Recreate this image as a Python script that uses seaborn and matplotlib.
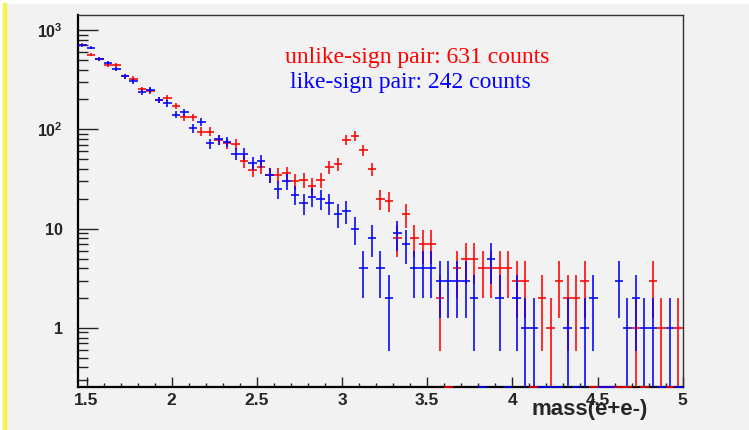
import numpy as np
import matplotlib
matplotlib.use("Agg")
import matplotlib.pyplot as plt
import seaborn as sns
from matplotlib.patches import Rectangle
from matplotlib.ticker import FixedLocator, FixedFormatter, MultipleLocator, LogLocator, NullFormatter, FuncFormatter

# histogram binning (71 bins, 1.45 .. 5.0 GeV)
mass_lo, mass_hi, n_bins = 1.45, 5.0, 71

# bin contents
unlike_counts = [710, 565, 505, 441, 441, 342, 323, 253, 245, 196,
                 208, 172, 132, 132, 95, 95, 78, 72, 71, 48,
                 39, 42, 35, 35, 36, 30, 31, 27, 31, 42,
                 45, 78, 86, 62, 40, 20, 19, 8, 14, 8,
                 7, 7, 2, 0, 4, 5, 5, 4, 4, 4,
                 4, 3, 3, 0, 2, 1, 3, 2, 2, 3,
                 0, 0, 0, 0, 0, 1, 0, 3, 1, 0, 1]
like_counts = [700, 664, 514, 465, 408, 342, 304, 236, 249, 196,
               183, 141, 148, 102, 119, 72, 79, 75, 57, 57,
               46, 48, 35, 25, 30, 22, 18, 21, 20, 18,
               14, 15, 10, 4, 8, 4, 2, 9, 7, 4,
               4, 4, 3, 3, 3, 3, 2, 0, 5, 2,
               0, 2, 1, 1, 0, 0, 0, 1, 0, 1,
               2, 0, 0, 3, 1, 2, 1, 1, 0, 1, 0]

unlike_label = "unlike-sign pair: 631 counts"
like_label = "like-sign pair: 242 counts"
x_title = "mass(e+e-)"

y_ticks = [1, 10, 100, 1000]
y_ticklabels = ["1", "10", r"$\mathbf{10^{2}}$", r"$\mathbf{10^{3}}$"]

sns.set_theme(style="ticks")
plt.rcParams["font.family"] = ["Liberation Sans", "DejaVu Sans"]
plt.rcParams["mathtext.fontset"] = "custom"
plt.rcParams["mathtext.bf"] = "Liberation Sans:bold"
plt.rcParams["mathtext.rm"] = "Liberation Sans"
palette = sns.color_palette(["#ff0000", "#0000ff"])

bg = "#f2f2f2"
W, H = 749, 430
fig = plt.figure(figsize=(W / 100, H / 100), dpi=100, facecolor=bg)
fig.patches.append(Rectangle((0, 1 - 3 / H), 1, 3 / H, transform=fig.transFigure, color="white", zorder=-5))
fig.patches.append(Rectangle((0, 0), 2.5 / W, 1, transform=fig.transFigure, color="white", zorder=-5))
fig.patches.append(Rectangle((2.5 / W, 0), 3 / W, 1 - 3 / H, transform=fig.transFigure, color="#f6f64a", zorder=-4))

ax = fig.add_axes([78 / W, 1 - 387 / H, 604.7 / W, (387 - 15.3) / H])
ax.set_facecolor(bg)

edges = np.linspace(mass_lo, mass_hi, n_bins + 1)
centers = 0.5 * (edges[:-1] + edges[1:])
half_w = 0.5 * (edges[1] - edges[0])
y_min, y_max = 0.254, 1407


def draw_hist(counts, color):
    n = np.asarray(counts, dtype=float)
    nz = n > 0
    err = np.sqrt(n)
    lo = np.clip(n - err, y_min * 0.5, None)
    ax.errorbar(centers[nz], n[nz], xerr=half_w, yerr=[n[nz] - lo[nz], err[nz]],
                fmt="none", ecolor=color, elinewidth=1.15, capsize=0, zorder=3)
    # empty bins: ROOT draws them on the bottom of the frame
    ax.hlines(np.full((~nz).sum(), y_min), centers[~nz] - half_w, centers[~nz] + half_w,
              color=color, lw=1.15, zorder=4, clip_on=False)


draw_hist(unlike_counts, palette[0])
draw_hist(like_counts, palette[1])

ax.set_yscale("log")
ax.set_ylim(y_min, y_max)
ax.set_xlim(mass_lo, mass_hi)

ax.yaxis.set_major_locator(FixedLocator(y_ticks))
ax.yaxis.set_major_formatter(FixedFormatter(y_ticklabels))
ax.yaxis.set_minor_locator(LogLocator(base=10, subs=np.arange(2, 10)))
ax.yaxis.set_minor_formatter(NullFormatter())
ax.xaxis.set_major_locator(MultipleLocator(0.5))
ax.xaxis.set_minor_locator(MultipleLocator(0.1))
ax.xaxis.set_major_formatter(FuncFormatter(lambda v, p: f"{v:g}"))

ax.tick_params(axis="y", which="major", direction="in", length=14.4, width=1.0, color="#222222",
               pad=11, labelsize=11.5)
ax.tick_params(axis="y", which="minor", direction="in", length=7.2, width=1.0, color="#222222")
ax.tick_params(axis="x", which="major", direction="in", length=7.2, width=1.0, color="#222222",
               pad=4, labelsize=12.5)
ax.tick_params(axis="x", which="minor", direction="in", length=3.0, width=1.0, color="#222222")
for lab in ax.get_xticklabels() + ax.get_yticklabels():
    lab.set_fontweight("bold")

for side in ["left", "bottom"]:
    ax.spines[side].set_linewidth(1.6)
    ax.spines[side].set_color("black")
for side in ["top", "right"]:
    ax.spines[side].set_linewidth(1.0)
    ax.spines[side].set_color("#333333")

# axis title sits over the 4.5 label, as in the original ROOT canvas
ax.set_xlabel(x_title, fontsize=16, fontweight="bold", ha="right", va="baseline")
ax.xaxis.set_label_coords((648 - 78) / 604.7, (387 - 415) / (387 - 15.3))

fig.text(285 / W, 1 - 63.5 / H, unlike_label, color=palette[0], fontsize=17,
         family=["Liberation Serif", "DejaVu Serif"], ha="left", va="baseline")
fig.text(290 / W, 1 - 88.3 / H, like_label, color=palette[1], fontsize=17,
         family=["Liberation Serif", "DejaVu Serif"], ha="left", va="baseline")

fig.savefig("out.png", dpi=100, facecolor=fig.get_facecolor())
